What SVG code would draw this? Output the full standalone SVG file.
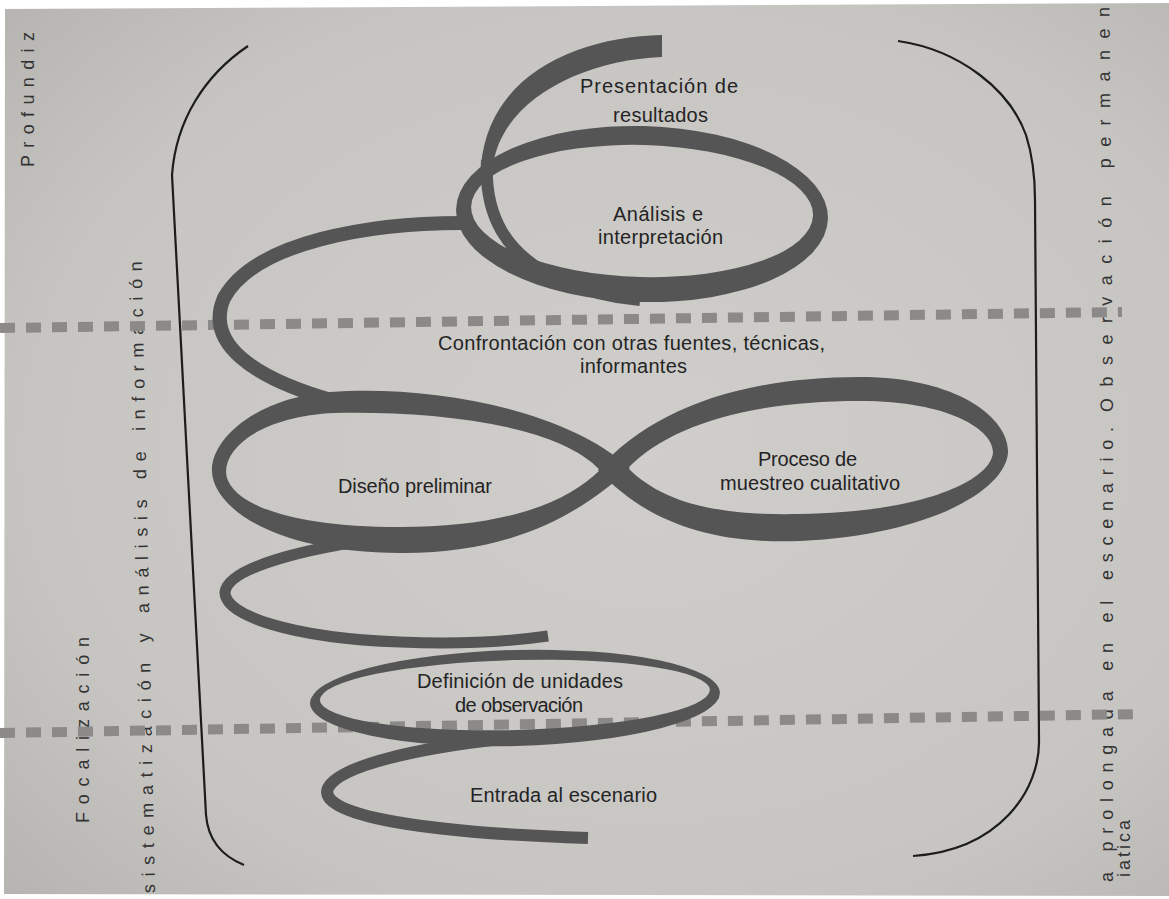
<svg xmlns="http://www.w3.org/2000/svg" width="1169" height="899" viewBox="0 0 1169 899">
<defs>
<radialGradient id="paper" cx="0.55" cy="0.5" r="0.75">
<stop offset="0" stop-color="#d0cecb"/>
<stop offset="0.7" stop-color="#c7c5c2"/>
<stop offset="1" stop-color="#b6b4b1"/>
</radialGradient>
<style>
.side{font-family:"Liberation Sans",Arial,sans-serif;font-size:18px;fill:#333333}
.lbl{font-family:"Liberation Sans",Arial,sans-serif;font-size:20px;fill:#242424}
.dash{fill:none;stroke:#8c8a88;stroke-width:10;stroke-dasharray:15 11}
.rib{fill:none;stroke:#555555;stroke-linecap:butt}
.ring{fill:#555555;fill-rule:evenodd}
.brk{fill:none;stroke:#1c1c1c;stroke-width:2.2}
</style>
</defs>
<rect width="1169" height="899" fill="#ffffff"/>
<polygon points="5,9 1169,3 1169,896 4,894" fill="url(#paper)"/>

<g id="side-texts">
<text class="side" x="34" y="167" transform="rotate(-90 34 167)" textLength="135">Profundiz</text>
<text class="side" x="89" y="823" transform="rotate(-90 89 823)" textLength="186">Focalización</text>
<text class="side" x="155" y="893" transform="rotate(-91.2 155 893)" textLength="632">sistematización y análisis de información</text>
<text class="side" x="1113" y="882" transform="rotate(-90 1113 882)" textLength="455">a prolongada en el escenario.</text>
<text class="side" x="1113" y="412" transform="rotate(-90.5 1113 412)" textLength="405">Observación permanen</text>
<text class="side" x="1130" y="877" transform="rotate(-90 1130 877)" textLength="57">iatica</text>
</g>

<g id="dashed-lines">
<line class="dash" x1="0" y1="328" x2="1122" y2="312"/>
<line class="dash" x1="0" y1="733" x2="1142" y2="714"/>
</g>

<g id="spiral">
<path class="ring" d="M 662,35 C 580,37 490,72 481,165 L 493,165 C 503,98 585,60 662,57 Z"/>
<path class="rib" stroke-width="12" d="M 487,160 C 484,215 505,255 560,280 C 590,293 615,298 640,300"/>
<path class="ring" transform="rotate(1.5 642 214)" d="M 456,214 A 186,88 0 1,0 828,214 A 186,88 0 1,0 456,214 Z M 471,211 A 171,66 0 1,0 813,211 A 171,66 0 1,0 471,211 Z"/>
<path class="rib" stroke-width="14" d="M 470,223 C 370,222 255,242 224,298 C 205,342 250,378 338,402"/>
<path class="ring" d="M 630,468 C 560,405 420,385 330,392 C 255,398 210,440 212,472 C 214,508 275,553 400,553 C 510,554 580,515 630,468 Z M 600,470 C 555,422 425,411 335,413 C 265,416 226,445 226,472 C 227,500 280,527 400,527 C 500,527 565,505 600,470 Z"/>
<path class="ring" d="M 598,470 C 650,410 740,377 860,377 C 960,377 1010,420 1008,453 C 1005,490 930,535 800,541 C 700,545 640,515 598,470 Z M 628,468 C 670,425 750,401 860,401 C 950,401 993,430 993,452 C 992,478 930,512 800,514 C 710,516 660,500 628,468 Z"/>
<path class="rib" stroke-width="11" d="M 368,540 C 290,552 228,570 225,592 C 224,615 290,638 400,642 C 470,645 520,640 548,636"/>
<path class="ring" transform="rotate(-1.5 515 698)" d="M 310,698 A 205,48 0 1,0 720,698 A 205,48 0 1,0 310,698 Z M 320,695 A 195,35 0 1,0 710,695 A 195,35 0 1,0 320,695 Z"/>
<path class="rib" stroke-width="12" d="M 500,739 C 420,748 340,765 328,788 C 318,812 400,832 588,838"/>
</g>

<g id="brackets">
<path class="brk" d="M 248,46 C 205,75 176,120 172,175 L 206,815 C 208,840 222,856 244,865"/>
<path class="brk" d="M 898,41 C 960,50 1010,90 1026,135 C 1034,160 1035,185 1035,200 L 1039,740 C 1040,790 1000,850 913,856"/>
</g>

<g id="node-presentacion">
<text class="lbl" x="580" y="93" textLength="158">Presentación de</text>
<text class="lbl" x="613" y="122" textLength="95">resultados</text>
</g>
<g id="node-analisis">
<text class="lbl" x="613" y="221" textLength="90">Análisis e</text>
<text class="lbl" x="598" y="244" textLength="125">interpretación</text>
</g>
<g id="node-confrontacion">
<text class="lbl" x="438" y="350" textLength="387">Confrontación con otras fuentes, técnicas,</text>
<text class="lbl" x="580" y="373" textLength="107">informantes</text>
</g>
<g id="node-diseno">
<text class="lbl" x="338" y="493" textLength="154">Diseño preliminar</text>
</g>
<g id="node-proceso">
<text class="lbl" x="758" y="466" textLength="99">Proceso de</text>
<text class="lbl" x="720" y="490" textLength="180">muestreo cualitativo</text>
</g>
<g id="node-definicion">
<text class="lbl" x="417" y="688" textLength="206">Definición de unidades</text>
<text class="lbl" x="455" y="712" textLength="128">de observación</text>
</g>
<g id="node-entrada">
<text class="lbl" x="470" y="802" textLength="187">Entrada al escenario</text>
</g>
</svg>
